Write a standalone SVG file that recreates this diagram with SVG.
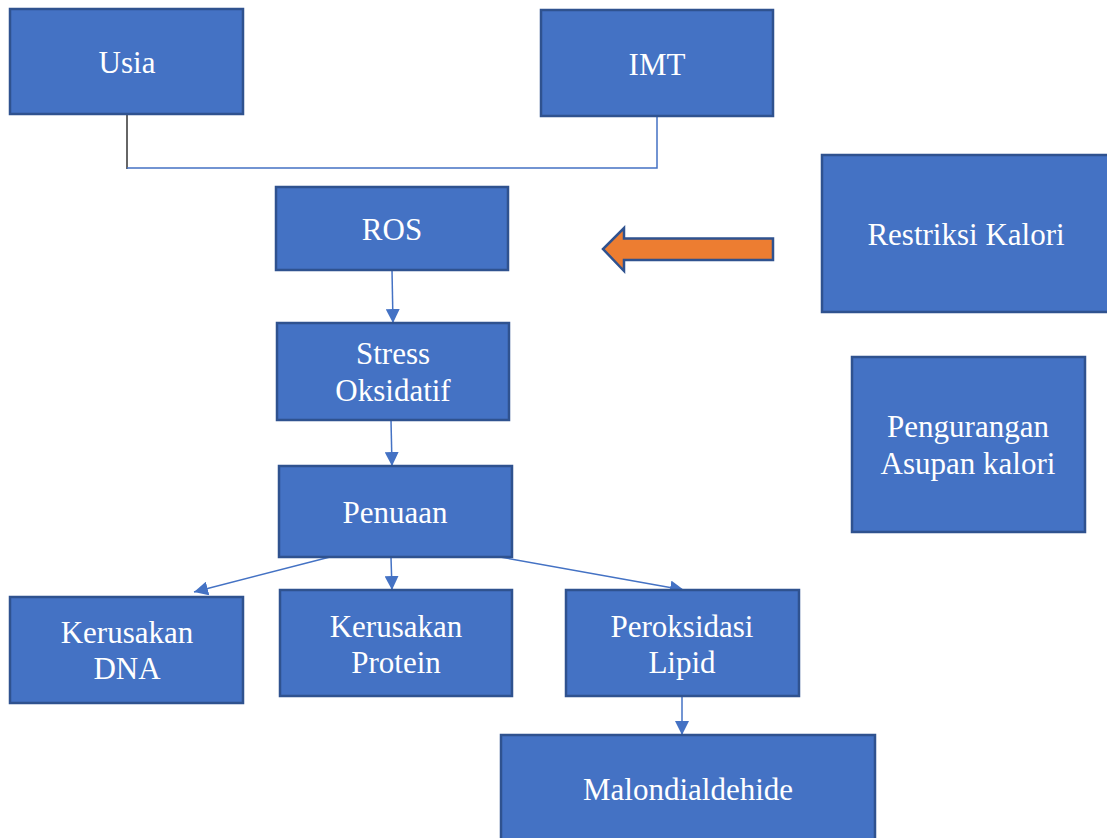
<svg xmlns="http://www.w3.org/2000/svg" width="1107" height="838" viewBox="0 0 1107 838">
<style>
.box{fill:#4472C4;stroke:#2F528F;stroke-width:2.5}
.t{font-family:'Liberation Serif','Times New Roman',serif;font-size:31px;fill:#ffffff;text-anchor:middle}
.c{stroke:#4472C4;stroke-width:1.5;fill:none}
</style>
<defs>
<marker id="ah2" viewBox="0 0 14 14" refX="14" refY="7" markerWidth="14" markerHeight="14" markerUnits="userSpaceOnUse" orient="auto">
<path d="M0,0 L14,7 L0,14 z" fill="#4472C4"/>
</marker>
</defs>
<rect width="1107" height="838" fill="#ffffff"/>
<g id="connectors">
<line x1="127" y1="114" x2="127" y2="169" stroke="#333" stroke-width="1.5"/>
<polyline class="c" points="127,168 657,168 657,116"/>
<line class="c" x1="392" y1="270" x2="393" y2="323" marker-end="url(#ah2)"/>
<line class="c" x1="391" y1="420" x2="392" y2="466" marker-end="url(#ah2)"/>
<line class="c" x1="330" y1="557" x2="194" y2="592" marker-end="url(#ah2)"/>
<line class="c" x1="391" y1="557" x2="392" y2="590" marker-end="url(#ah2)"/>
<line class="c" x1="500" y1="557" x2="684" y2="590" marker-end="url(#ah2)"/>
<line class="c" x1="682" y1="696" x2="682" y2="735" marker-end="url(#ah2)"/>
<polygon points="773,238.5 624,238.5 624,228 603,249 624,271 624,260 773,260" fill="#ED7D31" stroke="#2F528F" stroke-width="2.5"/>
</g>
<g id="usia"><rect class="box" x="10" y="9" width="233" height="105"/><text class="t" x="127" y="73">Usia</text></g>
<g id="imt"><rect class="box" x="541" y="10" width="232" height="106"/><text class="t" x="657" y="75">IMT</text></g>
<g id="ros"><rect class="box" x="276" y="187" width="232" height="83"/><text class="t" x="392" y="240">ROS</text></g>
<g id="restriksi"><rect class="box" x="822" y="155" width="290" height="157"/><text class="t" x="966" y="245">Restriksi Kalori</text></g>
<g id="pengurangan"><rect class="box" x="852" y="357" width="233" height="175"/><text class="t" x="968" y="437">Pengurangan</text><text class="t" x="968" y="474">Asupan kalori</text></g>
<g id="stress"><rect class="box" x="277" y="323" width="232" height="97"/><text class="t" x="393" y="364">Stress</text><text class="t" x="393" y="401">Oksidatif</text></g>
<g id="penuaan"><rect class="box" x="279" y="466" width="233" height="91"/><text class="t" x="395" y="523">Penuaan</text></g>
<g id="dna"><rect class="box" x="10" y="597" width="233" height="106"/><text class="t" x="127" y="643">Kerusakan</text><text class="t" x="127" y="679">DNA</text></g>
<g id="protein"><rect class="box" x="280" y="590" width="232" height="106"/><text class="t" x="396" y="637">Kerusakan</text><text class="t" x="396" y="673">Protein</text></g>
<g id="lipid"><rect class="box" x="566" y="590" width="233" height="106"/><text class="t" x="682" y="637">Peroksidasi</text><text class="t" x="682" y="673">Lipid</text></g>
<g id="malon"><rect class="box" x="501" y="735" width="374" height="110"/><text class="t" x="688" y="800">Malondialdehide</text></g>
</svg>
